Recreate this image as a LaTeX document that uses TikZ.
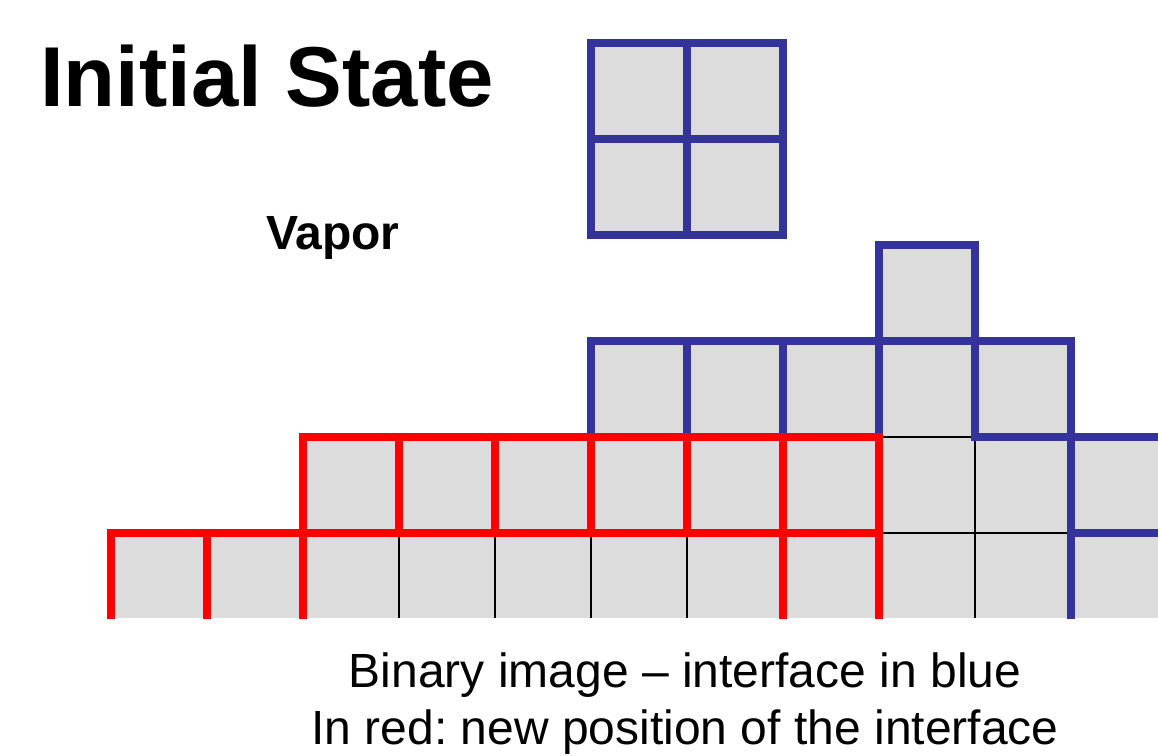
\documentclass[tikz,border=0pt]{standalone}
\usepackage{fontspec}
\setmainfont{Liberation Sans}
\frenchspacing
\definecolor{ifblue}{HTML}{333399}
\definecolor{ifred}{HTML}{FF0000}
\definecolor{cellgray}{HTML}{DCDCDC}
\tikzset{
  cellfill/.style={fill=cellgray, draw=none},
  thinline/.style={draw=black, line width=1.5pt},
  blueline/.style={draw=ifblue, line width=8pt, line cap=rect, line join=miter},
  redline/.style={draw=ifred, line width=8.5pt, line cap=rect, line join=miter},
  txt/.style={inner sep=0pt, text=black}
}
\begin{document}
\begin{tikzpicture}[x=1pt,y=-1pt]
\useasboundingbox (0,0) rectangle (1158,755);
\fill[white] (0,0) rectangle (1158,755);
\begin{scope}
\clip (0,0) rectangle (1158,618);
% gray cells
\path[cellfill] (111,533) rectangle (1158,618);
\path[cellfill] (303,437) rectangle (1158,533);
\path[cellfill] (591,341) rectangle (1071,437);
\path[cellfill] (879,245) rectangle (975,341);
\path[cellfill] (591,43) rectangle (783,235);
% thin black grid lines
\draw[thinline] (399,533) -- (399,618);
\draw[thinline] (495,533) -- (495,618);
\draw[thinline] (591,533) -- (591,618);
\draw[thinline] (687,533) -- (687,618);
\draw[thinline] (975,437) -- (975,618);
\draw[thinline] (879,437) -- (975,437);
\draw[thinline] (879,533) -- (1071,533);
% blue: interface
\draw[blueline] (591,43) rectangle (783,235);
\draw[blueline] (687,43) -- (687,235);
\draw[blueline] (591,139) -- (783,139);
\draw[blueline] (591,437) -- (591,341) -- (1071,341);
\draw[blueline] (687,341) -- (687,437);
\draw[blueline] (783,341) -- (783,437);
\draw[blueline] (879,437) -- (879,245) -- (975,245) -- (975,437) -- (1170,437);
\draw[blueline] (1071,341) -- (1071,630);
\draw[blueline] (1071,533) -- (1170,533);
% red: new interface
\draw[redline] (303,437) -- (879,437);
\draw[redline] (111,533) -- (879,533);
\draw[redline] (111,533) -- (111,630);
\draw[redline] (207,533) -- (207,630);
\draw[redline] (303,437) -- (303,630);
\draw[redline] (399,437) -- (399,533);
\draw[redline] (495,437) -- (495,533);
\draw[redline] (591,437) -- (591,533);
\draw[redline] (687,437) -- (687,533);
\draw[redline] (783,437) -- (783,630);
\draw[redline] (879,437) -- (879,630);
\end{scope}
% texts
\node[txt, anchor=base west, font=\fontsize{85}{90}\selectfont\bfseries] (title) at (40,106) {Initial State};
\node[txt, anchor=base west, font=\fontsize{48}{52}\selectfont\bfseries] (vapor) at (266,249) {Vapor};
\node[txt, anchor=base, font=\fontsize{48}{56}\selectfont] (cap1) at (685,687) {Binary image \textendash{} interface in blue};
\node[txt, anchor=base, font=\fontsize{48}{56}\selectfont] (cap2) at (685,744) {In red: new position of the interface};
\end{tikzpicture}
\end{document}
